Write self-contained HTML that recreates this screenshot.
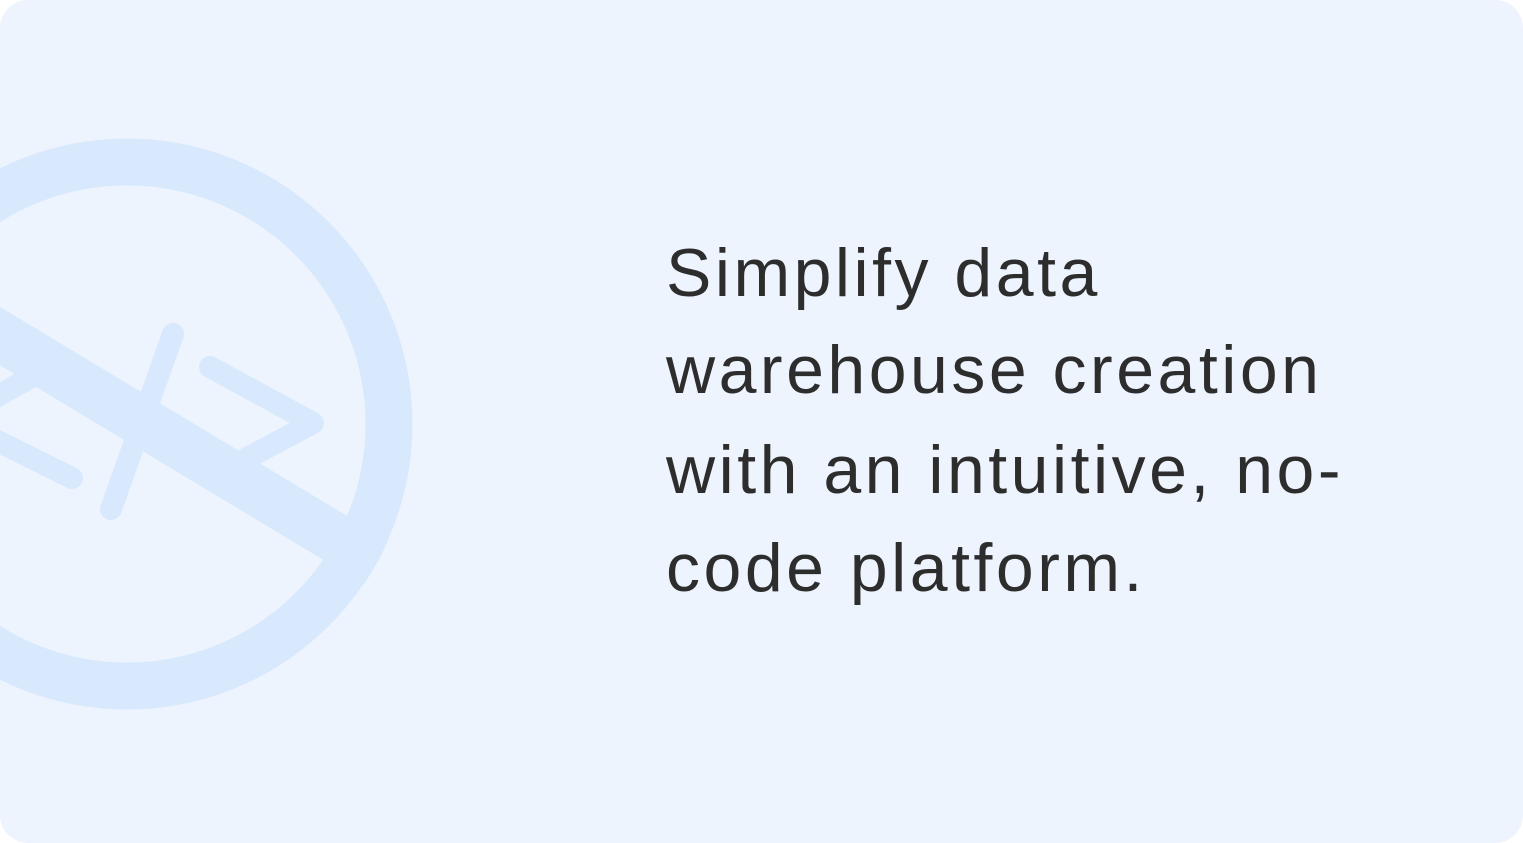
<!DOCTYPE html>
<html><head><meta charset="utf-8"><style>
html,body{margin:0;padding:0;background:#fff;}
.card{position:relative;width:1523px;height:843px;background:#edf4fe;border-radius:28px;overflow:hidden;}
svg{position:absolute;left:0;top:0;}
.t{position:absolute;left:666px;font-family:"Liberation Sans",sans-serif;font-size:68px;color:#2d2d2d;white-space:nowrap;letter-spacing:3.5px;line-height:1;}
</style></head><body>
<div class="card">
<svg width="1523" height="843" viewBox="0 0 1523 843">
<defs><clipPath id="c"><circle cx="127" cy="424" r="286"/></clipPath></defs>
<g fill="none" stroke="#d8e9fd">
<circle cx="127" cy="424" r="262" stroke-width="47"/>
<line x1="-20" y1="324" x2="420" y2="589" stroke-width="50" clip-path="url(#c)"/>
<line x1="173" y1="334" x2="111" y2="509" stroke-width="22" stroke-linecap="round"/>
<polyline points="210,367 313,423 236,464" stroke-width="22" stroke-linecap="round" stroke-linejoin="round"/>
<polyline points="40,372 -45,420 72,478" stroke-width="22" stroke-linecap="round" stroke-linejoin="round"/>
</g>
</svg>
<div class="t" style="top:239px">Simplify data</div>
<div class="t" style="top:336px">warehouse creation</div>
<div class="t" style="top:436px">with an intuitive, no-</div>
<div class="t" style="top:534px">code platform.</div>
</div>
</body></html>
